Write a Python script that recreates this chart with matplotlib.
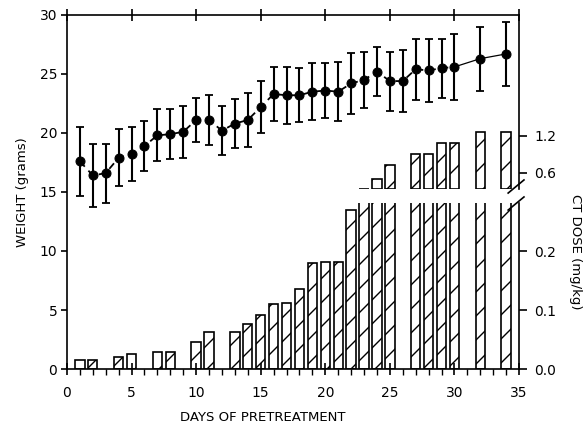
import numpy as np
import matplotlib.pyplot as plt

# body weight (mean +/- sd)
days_w = [1, 2, 3, 4, 5, 6, 7, 8, 9, 10, 11, 12, 13, 14, 15, 16, 17, 18,
          19, 20, 21, 22, 23, 24, 25, 26, 27, 28, 29, 30, 32, 34]
weight = [17.6, 16.4, 16.6, 17.9, 18.2, 18.9, 19.8, 19.9, 20.1, 21.1, 21.1, 20.2,
          20.8, 21.1, 22.2, 23.3, 23.2, 23.2, 23.5, 23.6, 23.5, 24.2, 24.5, 25.2,
          24.4, 24.4, 25.4, 25.3, 25.5, 25.6, 26.3, 26.7]
weight_err = [2.9, 2.7, 2.5, 2.4, 2.3, 2.1, 2.2, 2.1, 2.2, 1.9, 2.1, 2.1,
              2.1, 2.3, 2.2, 2.3, 2.4, 2.3, 2.4, 2.3, 2.5, 2.6, 2.4, 2.1,
              2.5, 2.6, 2.6, 2.7, 2.5, 2.8, 2.7, 2.7]

# CT dose given each day
days_b = [1, 2, 4, 5, 7, 8, 10, 11, 13, 14, 15, 16, 17, 18, 19, 20, 21, 22,
          23, 24, 25, 27, 28, 29, 30, 32, 34]
dose = [0.015, 0.015, 0.020, 0.025, 0.029, 0.029, 0.046, 0.063, 0.063, 0.077,
        0.091, 0.111, 0.112, 0.135, 0.180, 0.181, 0.181, 0.270,
        0.345, 0.498, 0.724, 0.900, 0.900, 1.079, 1.079, 1.256, 1.256]

lo_top = 0.2814          # where the lower dose axis breaks
hi_lim = (0.337, 3.144)  # upper dose axis range

# drawn at 72 dpi so the hatch spacing comes out close to the original;
# all point sizes are scaled by S to keep the 100 dpi look
S = 100 / 72.0
plt.rcParams['font.family'] = 'DejaVu Sans'
plt.rcParams['hatch.linewidth'] = 1.0 * S

fig = plt.figure(figsize=(584 / 72, 426 / 72), dpi=72)
L, W = 0.1147, 0.774
ax = fig.add_axes([L, 0.1338, W, 0.831])
axlo = fig.add_axes([L, 0.1338, W, 0.3897])
axhi = fig.add_axes([L, 0.5563, W, 0.4085])
ax.set_zorder(3)
ax.patch.set_visible(False)

db = np.array(days_b)
dz = np.array(dose)

# lower part of the bars (clipped at the break)
axlo.bar(db, dz, width=0.72, color='white', edgecolor='black', lw=1.2 * S, hatch='/')
axlo.set_ylim(0, lo_top)
axlo.set_xlim(0, 35)

# upper part of the bars
m = dz > hi_lim[0]
axhi.bar(db[m], dz[m] - hi_lim[0], bottom=hi_lim[0], width=0.72, color='white',
         edgecolor='black', lw=1.2 * S, hatch='/')
axhi.set_ylim(*hi_lim)
axhi.set_xlim(0, 35)

for a, ticks, labs in [(axlo, [0, 0.1, 0.2], ['0.0', '0.1', '0.2']),
                       (axhi, [0.6, 1.2], ['0.6', '1.2'])]:
    a.patch.set_visible(False)
    for s in ['left', 'top', 'bottom']:
        a.spines[s].set_visible(False)
    a.spines['right'].set_linewidth(1.2 * S)
    a.set_xticks([])
    a.yaxis.tick_right()
    a.set_yticks(ticks)
    a.set_yticklabels(labs)
    a.tick_params(axis='y', direction='out', length=6 * S, width=1.2 * S,
                  pad=5 * S, labelsize=10 * S)

# weight line
dw = np.array(days_w)
wt = np.array(weight)
k = dw <= 30
ax.plot(dw[k], wt[k], ls=(0, (4, 3)), color='black', lw=1.3 * S)
ax.plot(dw[dw >= 30], wt[dw >= 30], ls='-', color='black', lw=0.9 * S)
ax.errorbar(days_w, weight, yerr=weight_err, fmt='o', color='black', ms=6.5 * S,
            elinewidth=1.5 * S, capsize=3.2 * S, capthick=1.3 * S)

ax.set_xlim(0, 35)
ax.set_ylim(0, 30)
ax.spines['right'].set_visible(False)
for s in ['left', 'top', 'bottom']:
    ax.spines[s].set_linewidth(1.2 * S)
ax.set_xticks(range(0, 36, 5))
ax.set_xticks(range(0, 36), minor=True)
ax.set_yticks(range(0, 31, 5))
ax.tick_params(axis='x', which='major', direction='inout', length=9 * S, width=1.2 * S,
               pad=8 * S, labelsize=10 * S, top=True)
ax.tick_params(axis='x', which='minor', direction='out', length=4 * S, width=1.0 * S,
               top=False)
ax.tick_params(axis='y', direction='out', length=4 * S, width=1.2 * S, pad=3 * S,
               labelsize=10 * S)

ax.set_xlabel('DAYS OF PRETREATMENT', fontsize=9.5 * S, labelpad=8 * S, x=0.434)
ax.set_ylabel('WEIGHT (grams)', fontsize=9.5 * S, labelpad=8 * S)
fig.text(0.985, 0.408, 'CT DOSE (mg/kg)', rotation=-90, fontsize=9.5 * S,
         ha='center', va='center')

# axis break marks
for y0, y1 in [(0.497, 0.534), (0.449, 0.486)]:
    ax.plot([0.976, 1.011], [y0, y1], color='black', lw=1.2 * S,
            transform=ax.transAxes, clip_on=False)

fig.savefig('out.png', dpi=72)
